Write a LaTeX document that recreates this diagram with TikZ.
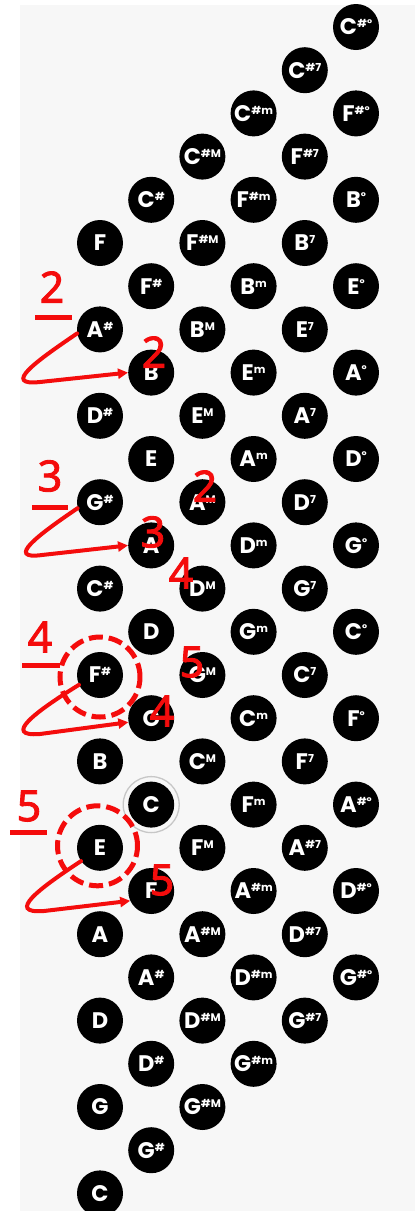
\documentclass[tikz,border=0pt]{standalone}
\usepackage{fontspec}
\newfontfamily\btnfont{Poppins}
\newfontfamily\numfont{Noto Sans}[BoldFont={Noto Sans}, BoldFeatures={FakeBold=2}]
\usetikzlibrary{arrows.meta}
\definecolor{bgray}{HTML}{F7F7F7}
\definecolor{annred}{HTML}{F40C0C}
\newcommand\ssup[1]{\raisebox{7pt}{\fontsize{11}{11}\selectfont #1}}
\begin{document}
\begin{tikzpicture}[x=1pt,y=-1pt,
  btn/.style={circle, fill=black, minimum size=46pt, inner sep=0pt, text=white,
    font=\btnfont\bfseries\fontsize{22.5}{22.5}\selectfont},
  num/.style={inner sep=0pt, text=annred, font=\numfont\bfseries\fontsize{43}{43}\selectfont},
  bar/.style={draw=annred, line width=5pt},
  conn/.style={draw=annred, line width=4pt, line cap=round, -{Triangle[length=10pt,width=10pt]}},
  dashring/.style={circle, draw=annred, line width=5pt, minimum size=80pt, inner sep=0pt, dash pattern=on 14pt off 6pt},
  cring/.style={circle, draw=black!22, line width=1.3pt, minimum size=56pt, inner sep=0pt}]
\useasboundingbox (0,0) rectangle (415,1211);
\fill[white] (0,0) rectangle (415,1211);
\fill[bgray] (20,5) rectangle (415,1211);
% buttons, columns 1..5
\foreach \c/\suf in {5/°,4/7,3/m,2/M,1/} {
  \foreach [count=\i from 0] \L/\S in {C/\#,F/\#,B/,E/,A/,D/,G/,C/,F/,A/\#,D/\#,G/\#} {
    \pgfmathtruncatemacro\r{5-\c+2*\i}
    \node[btn] (b\c-\r) at ({100+51.2*\c},{27+43.2*\r}) {\L\ssup{\S\suf}};
  }
}
% column 0
\foreach [count=\i from 0] \L/\S in {F/,A/\#,D/\#,G/\#,C/\#,F/\#,B/,E/,A/,D/,G/,C/} {
  \pgfmathtruncatemacro\r{5+2*\i}
  \node[btn] (b0-\r) at (100,{27+43.2*\r}) {\L\ssup{\S}};
}
\node[cring] (cmark) at (b1-18) {};
% group 1
\node[num] (n1a) at (52,287) {2};
\draw[bar] (35,317) -- (72,317);
\coordinate (s1) at (b0-7.190);
\coordinate (t1) at (b1-8.west);
\draw[conn] (s1) .. controls (35,362) and (2,386) .. (40,382) -- (t1);
\node[num] (n1b) at (154,352) {2};
% group 2
\node[num] (n2a) at (50,476) {3};
\draw[bar] (32,507) -- (68,507);
\coordinate (s2) at (b0-11.195);
\coordinate (t2) at (b1-12.west);
\draw[conn] (s2) .. controls (38,535) and (5,560) .. (42,555) -- (t2);
\node[num] (n2b) at (153,532) {3};
\node[num] (n2c) at (205,486) {2};
\node[num] (n2d) at (181,573) {4};
% group 3
\node[num] (n3a) at (40,637) {4};
\draw[bar] (22,665) -- (60,665);
\node[dashring] (ring3) at ([yshift=-2pt]b0-15) {};
\coordinate (s3) at (b0-15.205);
\coordinate (t3) at (b1-16.190);
\draw[conn] (s3) .. controls (35,712) and (2,737) .. (40,734) -- (t3);
\node[num] (n3b) at (162,711) {4};
\node[num] (n3c) at (192,662) {5};
% group 4
\node[num] (n4a) at (29,806) {5};
\draw[bar] (10,832) -- (47,832);
\node[dashring] (ring4) at ([xshift=-2.5pt,yshift=2pt]b0-19) {};
\coordinate (s4) at (b0-19.215);
\coordinate (t4) at (b1-20.205);
\draw[conn] (s4) .. controls (40,888) and (5,914) .. (44,911) -- (t4);
\node[num] (n4b) at (162,880) {5};
\end{tikzpicture}
\end{document}
